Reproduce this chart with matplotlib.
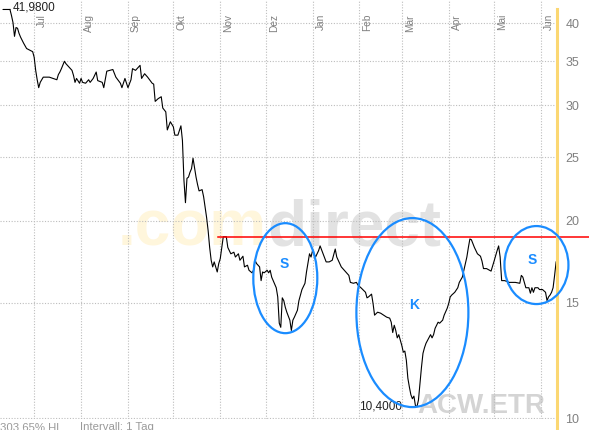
import pandas as pd
import matplotlib
matplotlib.use('Agg')
import matplotlib.pyplot as plt
import matplotlib.dates as mdates
from matplotlib.patches import Ellipse
from matplotlib.lines import Line2D
from matplotlib.transforms import IdentityTransform

plt.rcParams['font.family'] = ['Liberation Sans', 'DejaVu Sans']

# Daily closes, day offsets counted from the first day shown.
start = pd.Timestamp('2008-06-15')
day = [0, 1, 2, 3, 4, 5, 6, 7, 9, 11,
       13, 15, 16, 17, 18, 19, 20, 22, 26, 31,
       32, 33, 34, 36, 37, 38, 41, 42, 43, 44,
       46, 47, 48, 50, 52, 53, 55, 57, 58, 61,
       62, 64, 66, 68, 70, 73, 74, 76, 77, 78,
       80, 81, 83, 85, 86, 87, 89, 91, 94, 95,
       96, 98, 100, 101, 103, 104, 105, 106, 108, 109,
       111, 113, 114, 115, 116, 117, 118, 119, 120, 121,
       122, 123, 124, 125, 127, 128, 130, 131, 132, 133,
       134, 135, 136, 137, 138, 139, 140, 141, 143, 144,
       146, 148, 149, 151, 152, 154, 155, 157, 158, 160,
       161, 162, 163, 165, 166, 167, 168, 170, 171, 172,
       173, 174, 176, 177, 178, 179, 180, 181, 182, 183,
       185, 186, 187, 188, 190, 191, 193, 195, 196, 198,
       199, 200, 202, 204, 205, 207, 209, 211, 213, 215,
       216, 218, 219, 221, 224, 225, 227, 229, 230, 232,
       235, 236, 237, 239, 240, 241, 243, 245, 247, 249,
       251, 252, 253, 254, 255, 256, 257, 259, 260, 261,
       262, 263, 264, 265, 266, 267, 268, 269, 270, 271,
       272, 273, 274, 275, 278, 279, 280, 281, 283, 284,
       286, 287, 289, 290, 291, 292, 294, 296, 297, 299,
       301, 302, 303, 304, 305, 307, 309, 311, 312, 313,
       315, 318, 320, 322, 323, 324, 325, 327, 330, 334,
       337, 338, 339, 341, 343, 344, 345, 346, 347, 349,
       350, 352, 354, 355, 356, 357, 358, 359, 360, 361]
price = [41.98, 41.1, 40.1, 38.2, 39.4, 39.3, 38.6, 38.1, 37.3, 36.6,
         36.4, 36.2, 35.5, 33.9, 32.8, 31.9, 32.5, 33.1, 33.1, 32.8,
         33.4, 33.7, 34.1, 35.0, 34.7, 34.5, 33.9, 33.3, 32.5, 32.95,
         32.4, 32.95, 32.5, 32.4, 32.8, 32.5, 32.95, 33.7, 32.7, 32.5,
         31.9, 33.8, 33.9, 34.0, 33.1, 32.4, 31.9, 32.95, 32.4, 31.9,
         32.8, 34.1, 33.9, 34.3, 34.5, 32.95, 33.5, 33.1, 32.4, 32.3,
         30.4, 30.7, 30.9, 29.7, 29.3, 27.5, 27.9, 28.3, 27.8, 27.0,
         27.0, 27.9, 26.5, 23.05, 21.3, 23.2, 23.3, 23.7, 24.0, 24.9,
         24.1, 23.3, 22.7, 22.2, 22.3, 21.75, 20.2, 19.3, 18.2, 17.4,
         17.0, 17.3, 17.0, 16.7, 17.2, 17.5, 18.2, 18.9, 18.9, 18.2,
         17.8, 17.9, 17.6, 17.8, 17.4, 17.65, 17.0, 17.1, 16.8, 16.65,
         16.8, 17.4, 17.2, 17.0, 16.2, 16.7, 16.65, 16.8, 16.65, 16.8,
         16.4, 16.2, 15.8, 15.3, 13.95, 13.75, 15.25, 15.1, 14.75, 14.5,
         14.1, 13.6, 14.1, 14.25, 14.6, 15.1, 15.7, 16.05, 16.7, 17.8,
         17.6, 18.0, 17.6, 18.0, 18.3, 17.8, 17.3, 17.3, 17.4, 18.1,
         17.6, 17.2, 17.0, 16.8, 16.5, 16.1, 16.05, 16.1, 15.95, 15.8,
         15.55, 15.25, 15.3, 15.45, 14.95, 14.35, 14.5, 14.45, 14.35, 14.25,
         14.2, 14.0, 13.5, 13.85, 13.6, 13.25, 13.4, 12.9, 12.6, 12.65,
         12.25, 11.5, 11.15, 10.85, 10.7, 10.8, 10.45, 10.40, 10.65, 11.3,
         11.95, 12.55, 12.8, 13.0, 13.4, 13.25, 13.4, 13.7, 14.0, 13.95,
         14.1, 14.35, 14.7, 14.95, 15.3, 15.4, 15.55, 15.8, 16.1, 16.4,
         17.2, 17.6, 18.2, 18.75, 18.7, 18.2, 17.8, 17.65, 17.35, 16.9,
         16.9, 16.75, 17.35, 18.0, 18.3, 17.6, 16.2, 16.2, 16.1, 16.1,
         16.05, 16.5, 16.4, 15.8, 15.8, 15.5, 15.8, 15.55, 15.8, 15.8,
         15.7, 15.7, 15.55, 15.1, 15.3, 15.4, 15.55, 15.8, 16.5, 17.3]

months = ['Jul', 'Aug', 'Sep', 'Okt', 'Nov', 'Dez',
          'Jan', 'Feb', 'Mär', 'Apr', 'Mai', 'Jun']
month_starts = pd.date_range('2008-07-01', periods=12, freq='MS')
y_ticks = [10, 15, 20, 25, 30, 35, 40]

resistance = 18.9
resistance_start = pd.Timestamp('2008-10-30 12:00')

# hand drawn formations: label, centre date, centre price, label date, label price
shapes = ['S', 'K', 'S']
shape_center_date = ['2008-12-14', '2009-03-08', '2009-05-29']
shape_center_price = [16.34, 14.48, 17.11]
shape_label_date = ['2008-12-13', '2009-03-09', '2009-05-26']
shape_label_price = [17.2, 14.87, 17.44]
shape_size_px = [(64, 110), (112, 189), (64, 78)]

dates = start + pd.to_timedelta(day, unit='D')
s = pd.Series(price, index=dates)

fig = plt.figure(figsize=(5.89, 4.30), dpi=100)
ax = fig.add_axes([0, 11 / 430, 557 / 589, 419 / 430])
ax.set_yscale('log')
ax.set_xlim(pd.Timestamp('2008-06-08 10:00'), pd.Timestamp('2009-06-11 14:00'))
ax.set_ylim(9.965, 43.4)

for sp in ax.spines.values():
    sp.set_visible(False)

ax.set_xticks(month_starts)
ax.set_yticks(y_ticks)
ax.set_yticklabels([str(v) for v in y_ticks])
ax.yaxis.set_minor_locator(matplotlib.ticker.NullLocator())
ax.yaxis.tick_right()
ax.tick_params(axis='x', length=0, labelbottom=False)
ax.tick_params(axis='y', length=0, pad=6, labelsize=9, labelcolor='#808080')
ax.grid(True, color='#bdbdbd', linestyle=(0, (1, 1.5)), linewidth=0.8)
ax.set_axisbelow(True)

for m, d in zip(months, month_starts):
    ax.annotate(m, xy=(d, 1), xycoords=('data', 'axes fraction'),
                xytext=(3, -14), textcoords='offset pixels', rotation=90,
                ha='left', va='top', fontsize=7.3, color='#808080')

# watermark
wm = ax.text(0.212, 0.413, '.com', transform=ax.transAxes, fontsize=46,
             fontweight='bold', color='#fff6dc', va='baseline', zorder=0)
ax.annotate('direct', xy=(1, 0), xycoords=wm, va='bottom', ha='left',
            fontsize=46, fontweight='bold', color='#e2e2e2', zorder=0)
ax.text(0.750, 0.0143, 'ACW.ETR', transform=ax.transAxes, fontsize=20,
        fontweight='bold', color='#d4d4d4', va='baseline', zorder=0)

ax.plot(s.index, s.values, color='black', linewidth=0.8, zorder=3)

# resistance line running out past the chart edge
x0 = (mdates.date2num(resistance_start) - ax.get_xlim()[0]) / (ax.get_xlim()[1] - ax.get_xlim()[0])
ax.axhline(resistance, xmin=x0, xmax=589 / 557, color='#ff0000', linewidth=1.1,
           clip_on=False, zorder=4)

# high / low labels
hi_date, hi = s.idxmax(), s.max()
lo_date, lo = s.idxmin(), s.min()
ax.annotate('', xy=(hi_date, hi), xytext=(-7, 0), textcoords='offset pixels',
            arrowprops=dict(arrowstyle='-', color='black', lw=0.8, shrinkA=0, shrinkB=0))
ax.annotate(f'{hi:.4f}'.replace('.', ','), xy=(hi_date, hi), xytext=(3, -1),
            textcoords='offset pixels', ha='left', va='baseline', fontsize=8.5, color='#222222')
ax.annotate(f'{lo:.4f}'.replace('.', ','), xy=(lo_date, lo), xytext=(-15, 0),
            textcoords='offset pixels', ha='right', va='center', fontsize=8.5, color='#222222')

# formation ellipses (drawn in pixel units around a data point)
for lab, cd, cp, ld, lp, (w, h) in zip(shapes, shape_center_date, shape_center_price,
                                       shape_label_date, shape_label_price, shape_size_px):
    cx, cy = ax.transData.transform((mdates.date2num(pd.Timestamp(cd)), cp))
    e = Ellipse((cx, cy), w, h, transform=IdentityTransform(), fill=False,
                edgecolor='#1a8cff', linewidth=1.6, clip_on=False, zorder=5)
    fig.add_artist(e)
    ax.text(pd.Timestamp(ld), lp, lab, ha='center', va='center', fontsize=10,
            fontweight='bold', color='#1a8cff', zorder=6)

# yellow marker at right edge
fig.add_artist(Line2D([557 / 589, 557 / 589], [0, 1 - 9 / 430], transform=fig.transFigure,
                      color='#fbd772', linewidth=2.2))

fig.text(0.0, 8 / 430, '303,65% HL', va='top', ha='left', fontsize=8.2, color='#9a9a9a')
fig.text(80 / 589, 8 / 430, 'Intervall: 1 Tag', va='top', ha='left', fontsize=8.2, color='#9a9a9a')

fig.savefig('out.png', dpi=100)
